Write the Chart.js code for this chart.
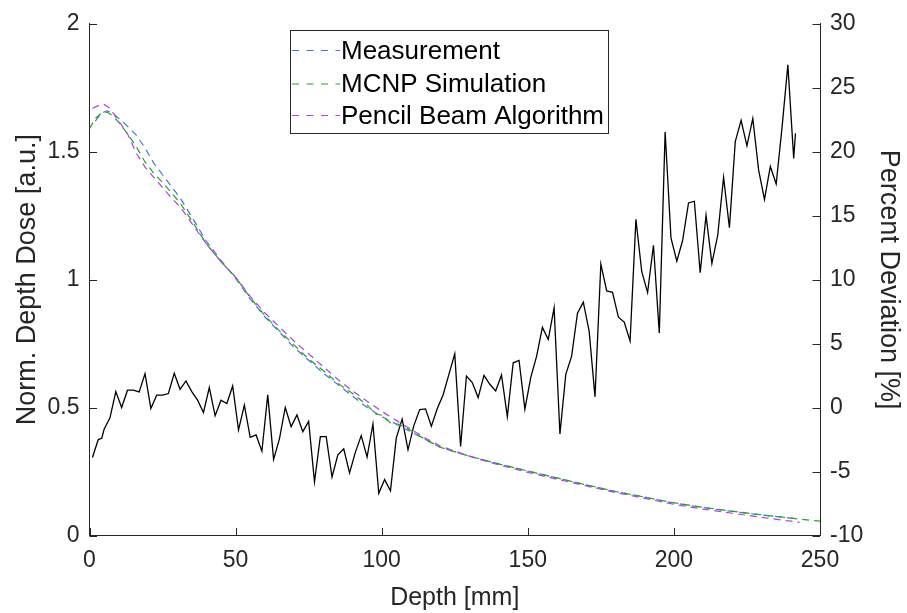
<!DOCTYPE html>
<html><head><meta charset="utf-8">
<script src="https://cdn.jsdelivr.net/npm/chart.js@4.4.1/dist/chart.umd.min.js"></script>
<style>html,body{margin:0;padding:0;background:#fff}#wrap{width:907px;height:613px;position:relative}</style>
</head><body><div id="wrap"><canvas id="c" width="907" height="613"></canvas></div>
<script>
// ---- data ----
const seriesLabels = ['Measurement', 'MCNP Simulation', 'Pencil Beam Algorithm'];
const xTitle = 'Depth [mm]';
const yLeftTitle = 'Norm. Depth Dose [a.u.]';
const yRightTitle = 'Percent Deviation [%]';
const xTicks = [0, 50, 100, 150, 200, 250];
const yLeftTicks = [0, 0.5, 1, 1.5, 2];
const yRightTicks = [-10, -5, 0, 5, 10, 15, 20, 25, 30];

const measDepth = [2, 4, 6, 8, 10, 13, 16, 19, 22, 25, 28, 31, 35, 40, 45, 50, 55, 60, 65, 70, 75, 80, 85, 90, 95, 100, 105, 110, 115, 120, 130, 140, 150, 160, 170, 180, 190, 200, 210, 220, 230, 240, 242];
const measDose  = [1.62, 1.65, 1.66, 1.65, 1.63, 1.60, 1.565, 1.515, 1.455, 1.41, 1.365, 1.32, 1.245, 1.15, 1.075, 1.005, 0.925, 0.855, 0.795, 0.735, 0.685, 0.635, 0.59, 0.545, 0.50, 0.465, 0.435, 0.405, 0.375, 0.345, 0.31, 0.28, 0.252, 0.225, 0.198, 0.172, 0.15, 0.127, 0.109, 0.094, 0.08, 0.068, 0.066];

const mcnpDepth = [0, 2, 4, 6, 8, 10, 13, 16, 19, 22, 25, 28, 31, 35, 40, 45, 50, 55, 60, 65, 70, 75, 80, 85, 90, 95, 98, 100, 103, 106, 110, 115, 120, 130, 140, 150, 160, 170, 180, 190, 200, 210, 220, 230, 240, 250];
const mcnpDose  = [1.59, 1.63, 1.65, 1.655, 1.64, 1.615, 1.57, 1.52, 1.46, 1.415, 1.38, 1.34, 1.30, 1.23, 1.14, 1.07, 1.01, 0.93, 0.86, 0.80, 0.745, 0.69, 0.645, 0.595, 0.555, 0.51, 0.475, 0.47, 0.44, 0.435, 0.41, 0.375, 0.345, 0.31, 0.28, 0.252, 0.225, 0.198, 0.172, 0.15, 0.128, 0.11, 0.095, 0.081, 0.068, 0.056];

const pbaDepth = [1, 3, 5, 7, 10, 13, 16, 19, 22, 25, 28, 31, 35, 40, 45, 50, 55, 60, 65, 70, 75, 80, 85, 90, 95, 100, 105, 110, 115, 120, 130, 140, 150, 160, 170, 180, 190, 200, 210, 220, 230, 240, 243];
const pbaDose  = [1.67, 1.68, 1.685, 1.67, 1.62, 1.57, 1.495, 1.44, 1.40, 1.36, 1.32, 1.285, 1.22, 1.14, 1.07, 1.01, 0.935, 0.87, 0.815, 0.76, 0.71, 0.66, 0.61, 0.565, 0.525, 0.485, 0.45, 0.415, 0.38, 0.35, 0.31, 0.276, 0.247, 0.22, 0.194, 0.168, 0.145, 0.122, 0.103, 0.087, 0.071, 0.056, 0.051];

const devDepth = [1, 3, 4.2, 5, 7, 9, 11, 13, 15, 17, 19, 21, 23, 25, 27, 29, 31, 33, 35, 37, 39, 41, 43, 45, 47, 49, 51, 53, 55, 57, 59, 61, 63, 65, 67, 69, 71, 73, 75, 77, 79, 81, 83, 85, 87, 89, 91, 93, 95, 97, 99, 101, 103, 105, 107, 109, 111, 113, 115, 117, 119, 121, 123, 125, 127, 129, 131, 133, 135, 137, 139, 141, 143, 145, 147, 149, 151, 153, 155, 157, 159, 161, 163, 165, 167, 169, 171, 173, 175, 177, 179, 181, 183, 185, 187, 189, 191, 193, 195, 197, 199, 201, 203, 205, 207, 209, 211, 213, 215, 217, 219, 221, 223, 225, 227, 229, 231, 233, 235, 237, 239, 241, 241.6];
const devValues = [-3.9, -2.5, -2.4, -1.7, -0.8, 1.25, 0.0, 1.36, 1.36, 1.23, 2.65, -0.07, 0.97, 0.97, 1.10, 2.68, 1.43, 2.08, 1.25, 0.58, -0.38, 1.56, -0.64, 0.58, 0.32, 1.69, -1.75, 0.19, -2.32, -2.14, -3.41, 0.99, -4.05, -2.45, 0.01, -1.49, -0.58, -1.88, -1.08, -5.81, -2.27, -2.27, -5.43, -3.69, -3.22, -5.11, -3.48, -2.19, -3.87, -1.28, -6.70, -5.63, -6.51, -2.37, -0.90, -3.30, -1.41, -0.15, -0.10, -1.46, -0.10, 0.99, 2.60, 4.20, -3.04, 2.47, 1.95, 0.78, 2.52, 1.82, 1.30, 2.55, -0.71, 3.50, 3.69, -0.12, 2.34, 4.0, 6.27, 5.32, 7.8, -2.06, 2.60, 4.02, 7.38, 8.24, 5.96, 0.84, 11.22, 9.12, 9.01, 7.06, 6.68, 5.2, 14.71, 10.62, 8.99, 12.69, 5.83, 21.54, 13.26, 11.45, 13.08, 16.0, 16.13, 10.54, 15.02, 11.27, 13.47, 18.0, 14.06, 20.79, 22.45, 20.46, 22.6, 18.56, 16.27, 18.85, 17.48, 21.88, 26.79, 19.47, 21.44];

// ---- build ----
const zip = (xs, ys) => xs.map((x, i) => ({x: x, y: ys[i]}));
const colors = ['#3b78d8', '#21a821', '#b23fe0'];
const TXT = '#262626';
const FONT = "'Liberation Sans', Arial, Helvetica, sans-serif";
const fmt = v => String(v);

const innerTicks = {
  id: 'innerTicks',
  afterDatasetsDraw(chart) {
    const {ctx, chartArea: a, scales} = chart;
    const L = 7.5;
    ctx.save();
    ctx.strokeStyle = TXT; ctx.lineWidth = 1;
    ctx.beginPath();
    xTicks.forEach(v => { const p = Math.round(scales.x.getPixelForValue(v)) + 0.5; ctx.moveTo(p, a.bottom); ctx.lineTo(p, a.bottom - L); });
    yLeftTicks.forEach(v => { const p = Math.round(scales.y.getPixelForValue(v)) + 0.5; ctx.moveTo(a.left, p); ctx.lineTo(a.left + L, p); });
    yRightTicks.forEach(v => { const p = Math.round(scales.y1.getPixelForValue(v)) + 0.5; ctx.moveTo(a.right, p); ctx.lineTo(a.right - L, p); });
    ctx.stroke();
    ctx.restore();
  }
};

const boxLegend = {
  id: 'boxLegend',
  afterDraw(chart) {
    const {ctx} = chart;
    const bx = 290.5, by = 30.5, bw = 318, bh = 103;
    const rows = [50.5, 84, 115.5];
    ctx.save();
    ctx.fillStyle = '#fff';
    ctx.fillRect(bx, by, bw, bh);
    ctx.strokeStyle = TXT; ctx.lineWidth = 1;
    ctx.strokeRect(bx, by, bw, bh);
    ctx.font = "26px " + FONT;
    ctx.textBaseline = 'middle';
    ctx.textAlign = 'left';
    for (let i = 0; i < 3; i++) {
      const ds = chart.data.datasets[i];
      ctx.strokeStyle = ds.borderColor;
      ctx.lineWidth = 1.2;
      ctx.setLineDash([7, 7.5]);
      ctx.beginPath();
      ctx.moveTo(292, rows[i]); ctx.lineTo(340, rows[i]);
      ctx.stroke();
      ctx.setLineDash([]);
      ctx.fillStyle = '#000';
      ctx.fillText(ds.label, 341, rows[i] + 1);
    }
    ctx.restore();
  }
};

new Chart(document.getElementById('c'), {
  type: 'line',
  data: {
    datasets: [
      {label: seriesLabels[0], data: zip(measDepth, measDose), yAxisID: 'y', borderColor: colors[0], borderWidth: 1.2, borderDash: [7, 5], pointRadius: 0, tension: 0, order: 3},
      {label: seriesLabels[1], data: zip(mcnpDepth, mcnpDose), yAxisID: 'y', borderColor: colors[1], borderWidth: 1.2, borderDash: [7, 5], pointRadius: 0, tension: 0, order: 2},
      {label: seriesLabels[2], data: zip(pbaDepth, pbaDose), yAxisID: 'y', borderColor: colors[2], borderWidth: 1.2, borderDash: [7, 5], pointRadius: 0, tension: 0, order: 1},
      {label: 'Deviation', data: zip(devDepth, devValues), yAxisID: 'y1', borderColor: '#000', borderWidth: 1.3, pointRadius: 0, tension: 0, order: 4}
    ]
  },
  options: {
    responsive: false, animation: false, devicePixelRatio: 1,
    layout: {padding: {top: 20, left: 0, right: 0, bottom: 0}},
    plugins: {legend: {display: false}, tooltip: {enabled: false}},
    scales: {
      x: {
        type: 'linear', min: 0, max: 250,
        afterBuildTicks: s => { s.ticks = xTicks.map(v => ({value: v})); },
        afterFit: s => { s.height = 77.5; },
        grid: {display: false, drawTicks: false},
        border: {display: true, color: TXT, width: 1},
        ticks: {color: TXT, font: {family: FONT, size: 23}, padding: 11, maxRotation: 0, callback: fmt},
        title: {display: true, text: xTitle, color: TXT, font: {family: FONT, size: 25}, padding: {top: 0, bottom: 0}}
      },
      y: {
        type: 'linear', position: 'left', min: 0, max: 2,
        afterBuildTicks: s => { s.ticks = yLeftTicks.map(v => ({value: v})); },
        afterFit: s => { s.width = 89.5; },
        grid: {display: false, drawTicks: false},
        border: {display: true, color: TXT, width: 1},
        ticks: {color: TXT, font: {family: FONT, size: 23}, padding: 10, callback: fmt},
        title: {display: true, text: yLeftTitle, color: TXT, font: {family: FONT, size: 27}, padding: {top: 11, bottom: 0}}
      },
      y1: {
        type: 'linear', position: 'right', min: -10, max: 30,
        afterBuildTicks: s => { s.ticks = yRightTicks.map(v => ({value: v})); },
        afterFit: s => { s.width = 87; },
        grid: {display: false, drawTicks: false},
        border: {display: true, color: TXT, width: 1},
        ticks: {color: TXT, font: {family: FONT, size: 23}, padding: 10, callback: fmt},
        title: {display: true, text: yRightTitle, color: TXT, font: {family: FONT, size: 27}, padding: {top: 2, bottom: 0}}
      }
    }
  },
  plugins: [innerTicks, boxLegend]
});
</script>
</body></html>
